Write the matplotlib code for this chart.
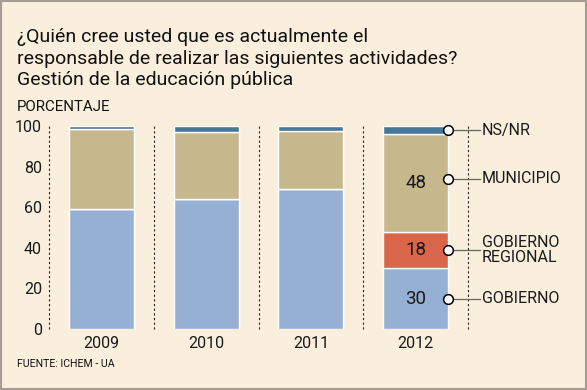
import matplotlib
matplotlib.use("Agg")
import matplotlib.pyplot as plt
from matplotlib.patches import Rectangle
import numpy as np

years = ["2009", "2010", "2011", "2012"]
gobierno = [59, 64, 69, 30]
regional = [0, 0, 0, 18]
municipio = [39.5, 33, 28.5, 48]
nsnr = [1.5, 3, 2.5, 4]
series_names = ["GOBIERNO", "GOBIERNO\nREGIONAL", "MUNICIPIO", "NS/NR"]
yticks = [0, 20, 40, 60, 80, 100]

title_lines = ["¿Quién cree usted que es actualmente el",
               "responsable de realizar las siguientes actividades?",
               "Gestión de la educación pública"]

BG = "#FAEFDC"
C_GOB = "#95B0D2"
C_REG = "#D9654A"
C_MUN = "#C6B78D"
C_NS = "#47789A"

FONT = ["Roboto", "DejaVu Sans"]
plt.rcParams["font.family"] = FONT

W, H = 587, 390
fig = plt.figure(figsize=(W / 100, H / 100), dpi=100, facecolor=BG)

def fx(px):
    return px / W

def fy(py):
    return 1 - py / H

ax = fig.add_axes([fx(49), fy(329), fx(468) - fx(49), fy(126) - fy(329)])
ax.set_facecolor(BG)
ax.patch.set_alpha(0)

x = np.arange(len(years))
bw = 0.62
series = [gobierno, regional, municipio, nsnr]
colors = [C_GOB, C_REG, C_MUN, C_NS]
bottom = np.zeros(len(years))
for vals, col in zip(series, colors):
    vals = np.array(vals, dtype=float)
    ax.bar(x, vals, bw, bottom=bottom, color=col, edgecolor="white", linewidth=1.0, zorder=2)
    bottom += vals

ax.set_xlim(-0.5, 3.5)
ax.set_ylim(0, 100)
for s in ax.spines.values():
    s.set_visible(False)

# dotted separators
for xv in [-0.5, 0.5, 1.5, 2.5, 3.5]:
    ax.plot([xv, xv], [0, 100], color="#222222", linestyle=(0, (2, 2.2)), linewidth=0.8,
            zorder=1, clip_on=False)

ax.set_yticks(yticks)
ax.set_yticklabels([str(v) for v in yticks], fontsize=11.5, color="#1a1a1a")
ax.tick_params(axis="y", length=0, pad=5)
ax.set_xticks(x)
ax.set_xticklabels(years, fontsize=11.5, color="#1a1a1a")
ax.tick_params(axis="x", length=0, pad=5)

# values and legend on last bar
last = len(years) - 1
vals_last = [gobierno[last], regional[last], municipio[last], nsnr[last]]
bots = np.cumsum([0] + vals_last[:-1])
mids = bots + np.array(vals_last) / 2.0
mids[2] += 2  # municipio marker slightly higher
xr = x[last] + bw / 2
x_lab = 3.63
for i, (v, m, name) in enumerate(zip(vals_last, mids, series_names)):
    ym = m
    if i < 3:
        ax.text(x[last], bots[i] + v / 2.0, f"{v:g}", ha="center", va="center",
                fontsize=13.5, color="#1a1a1a", zorder=4)
    ax.plot([xr, x_lab - 0.02], [ym, ym], color="#666666", linewidth=0.9, zorder=3, clip_on=False)
    ax.plot([xr], [ym], marker="o", markersize=7, markerfacecolor="white",
            markeredgecolor="black", markeredgewidth=1.1, zorder=5, clip_on=False)
    ax.text(x_lab, ym, name, ha="left", va="center", fontsize=11.5, color="#1a1a1a",
            linespacing=0.95, clip_on=False)

# titles
for i, line in enumerate(title_lines):
    fig.text(fx(17), fy(42 + 21.5 * i), line, ha="left", va="baseline", fontsize=14, color="#111111")
fig.text(fx(17), fy(111), "PORCENTAJE", ha="left", va="baseline", fontsize=10.8, color="#111111")
fig.text(fx(17), fy(367), "FUENTE: ICHEM - UA", ha="left", va="baseline", fontsize=7.6, color="#111111")

# frame
fig.patches.append(Rectangle((fx(0.8), fy(388.5)), fx(585.5) - fx(0.8), fy(0.8) - fy(388.5),
                             transform=fig.transFigure, fill=False, edgecolor="#A59D93",
                             linewidth=1.5, zorder=10))

fig.savefig("out.png", dpi=100, facecolor=BG)
